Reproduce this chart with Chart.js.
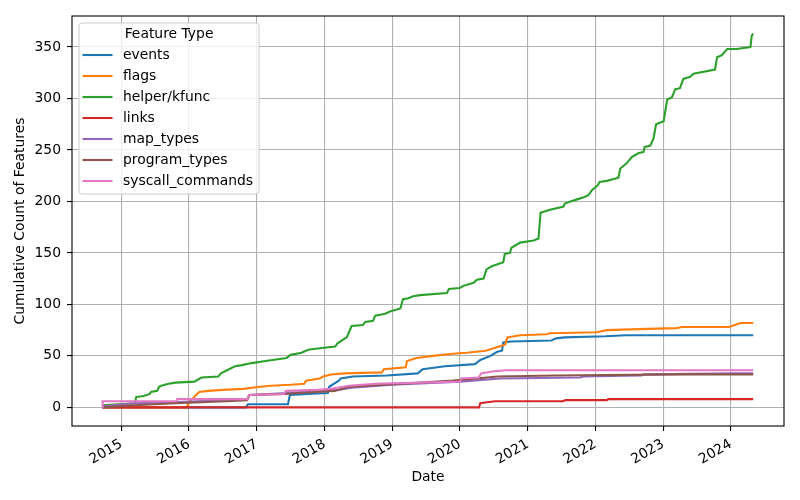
<!DOCTYPE html>
<html>
<head>
<meta charset="utf-8">
<script src="https://cdn.jsdelivr.net/npm/chart.js@4.4.1/dist/chart.umd.min.js"></script>
<style>
  html, body { margin: 0; padding: 0; background: #fff; }
</style>
</head>
<body>
<canvas id="chart" width="800" height="500"></canvas>
<script>
// cumulative feature counts
const eventsDates = ['2014-09-20', '2016-11-03', '2016-11-14', '2017-06-18', '2017-06-28', '2017-10-01', '2018-01-19', '2018-01-26', '2018-03-19', '2018-03-29', '2018-06-03', '2018-12-02', '2019-05-19', '2019-06-14', '2019-10-12', '2020-03-22', '2020-04-20', '2020-06-14', '2020-07-20', '2020-08-15', '2020-08-22', '2020-10-01', '2021-05-08', '2021-06-03', '2021-07-20', '2022-02-25', '2022-06-14', '2024-05-01'];
const eventsCounts = [0, 0, 3, 3, 12, 13, 14, 20, 26, 28, 30, 31, 33, 37, 40, 42, 46, 50, 54, 55, 63, 64, 65, 67, 68, 69, 70, 70];

const flagsDates = ['2014-09-20', '2015-12-20', '2016-01-01', '2016-02-14', '2016-02-25', '2016-04-13', '2016-07-02', '2016-10-19', '2017-01-19', '2017-03-15', '2017-07-02', '2017-09-13', '2017-09-24', '2017-12-05', '2017-12-24', '2018-02-06', '2018-04-20', '2018-11-06', '2018-11-17', '2019-03-15', '2019-03-22', '2019-05-12', '2019-08-08', '2019-11-24', '2020-02-06', '2020-05-19', '2020-07-31', '2020-09-02', '2020-09-13', '2020-11-21', '2021-04-13', '2021-05-01', '2022-01-08', '2022-03-04', '2022-08-22', '2023-03-15', '2023-04-13', '2023-12-24', '2024-02-06', '2024-02-21', '2024-05-01'];
const flagsCounts = [0, 0, 5, 13, 15, 16, 17, 18, 20, 21, 22, 23, 26, 28, 30, 32, 33, 34, 37, 39, 45, 48, 50, 52, 53, 55, 59, 61, 68, 70, 71, 72, 73, 75, 76, 77, 78, 78, 81, 82, 82];

const helperDates = ['2014-09-20', '2015-03-15', '2015-03-22', '2015-05-01', '2015-06-03', '2015-06-10', '2015-07-13', '2015-07-24', '2015-08-04', '2015-09-13', '2015-10-19', '2016-01-30', '2016-03-08', '2016-06-07', '2016-06-21', '2016-08-04', '2016-09-06', '2016-10-12', '2016-12-05', '2017-02-17', '2017-03-26', '2017-06-10', '2017-07-02', '2017-08-30', '2017-10-05', '2017-11-14', '2018-02-28', '2018-03-11', '2018-04-13', '2018-05-01', '2018-05-27', '2018-07-27', '2018-08-08', '2018-09-20', '2018-10-01', '2018-11-24', '2018-12-20', '2019-02-14', '2019-02-28', '2019-03-29', '2019-04-24', '2019-05-30', '2019-10-23', '2019-11-03', '2020-01-01', '2020-01-19', '2020-03-15', '2020-04-02', '2020-05-08', '2020-05-23', '2020-06-21', '2020-08-22', '2020-08-30', '2020-09-27', '2020-10-05', '2020-11-21', '2021-02-02', '2021-02-28', '2021-03-11', '2021-05-01', '2021-07-13', '2021-07-20', '2021-08-19', '2021-09-24', '2021-10-30', '2021-11-24', '2021-12-13', '2022-01-15', '2022-01-23', '2022-03-04', '2022-05-05', '2022-05-15', '2022-06-18', '2022-07-16', '2022-08-22', '2022-09-17', '2022-09-24', '2022-10-23', '2022-11-10', '2022-11-24', '2023-01-04', '2023-01-23', '2023-02-17', '2023-03-08', '2023-04-02', '2023-04-20', '2023-05-27', '2023-06-14', '2023-10-08', '2023-10-19', '2023-11-14', '2023-12-13', '2024-02-02', '2024-04-16', '2024-04-23', '2024-05-01'];
const helperCounts = [2, 4, 10, 11, 13, 15, 16, 20, 21, 23, 24, 25, 29, 30, 33, 37, 40, 41, 43, 45, 46, 48, 51, 53, 56, 57, 59, 62, 66, 68, 79, 80, 83, 84, 89, 91, 93, 96, 105, 106, 108, 109, 111, 115, 116, 118, 121, 124, 125, 134, 137, 141, 149, 150, 155, 160, 162, 164, 189, 192, 195, 198, 200, 202, 204, 206, 211, 216, 219, 220, 223, 232, 237, 243, 247, 248, 253, 254, 261, 275, 278, 299, 301, 309, 310, 319, 321, 324, 328, 340, 342, 348, 348, 350, 361, 363];

const linksDates = ['2014-09-20', '2020-04-13', '2020-04-20', '2020-05-27', '2020-07-09', '2021-07-09', '2021-07-24', '2022-03-04', '2022-03-11', '2024-05-01'];
const linksCounts = [0, 0, 4, 5, 6, 6, 7, 7, 8, 8];

const mapDates = ['2014-09-20', '2015-03-15', '2015-10-19', '2016-07-02', '2016-11-10', '2016-11-21', '2017-06-14', '2017-12-13', '2018-03-15', '2018-05-27', '2019-01-01', '2020-01-01', '2020-08-08', '2021-10-12', '2021-10-27', '2022-09-06', '2022-09-17', '2024-02-06', '2024-05-01'];
const mapCounts = [1, 4, 5, 7, 8, 12, 14, 16, 17, 19, 22, 25, 28, 29, 30, 31, 32, 33, 33];

const progDates = ['2014-09-20', '2015-03-15', '2015-10-19', '2016-07-20', '2016-11-10', '2016-11-21', '2017-06-07', '2017-08-08', '2018-02-25', '2018-05-12', '2018-11-24', '2019-11-24', '2020-05-27', '2020-07-20', '2021-05-27', '2023-04-13', '2024-05-01'];
const progCounts = [0, 2, 4, 6, 7, 12, 13, 14, 16, 20, 22, 26, 29, 30, 31, 32, 32];

const syscallDates = ['2014-09-20', '2014-09-22', '2015-10-23', '2015-10-30', '2016-11-10', '2016-11-21', '2017-05-27', '2017-06-07', '2017-11-24', '2018-02-06', '2018-05-12', '2018-10-01', '2020-01-01', '2020-01-08', '2020-04-13', '2020-04-24', '2020-07-02', '2020-09-09', '2024-05-01'];
const syscallCounts = [0, 6, 6, 8, 8, 12, 13, 16, 17, 18, 21, 23, 25, 28, 29, 33, 35, 36, 36];

const seriesNames = ['events', 'flags', 'helper/kfunc', 'links', 'map_types', 'program_types', 'syscall_commands'];
const seriesColors = ['#1f77b4', '#ff7f0e', '#2ca02c', '#d62728', '#9467bd', '#8c564b', '#e377c2'];
const yearTicks = [2015, 2016, 2017, 2018, 2019, 2020, 2021, 2022, 2023, 2024];
const countTicks = [0, 50, 100, 150, 200, 250, 300, 350];
const legendTitle = 'Feature Type';

const FONT = 'DejaVu Sans';
const FS = 13.9;

function points(dates, counts) {
  return dates.map((d, i) => ({ x: Date.parse(d), y: counts[i] }));
}

const allSeries = [
  points(eventsDates, eventsCounts),
  points(flagsDates, flagsCounts),
  points(helperDates, helperCounts),
  points(linksDates, linksCounts),
  points(mapDates, mapCounts),
  points(progDates, progCounts),
  points(syscallDates, syscallCounts),
];

// frame round the plot + matplotlib style legend in the upper left
const frameAndLegend = {
  id: 'frameAndLegend',
  afterDraw(chart) {
    const { ctx, chartArea: a } = chart;
    ctx.save();
    ctx.strokeStyle = '#000';
    ctx.lineWidth = 1.1;
    ctx.strokeRect(a.left, a.top, a.right - a.left, a.bottom - a.top);

    ctx.font = `${FS}px "${FONT}"`;
    const sets = chart.data.datasets;
    const textW = Math.max(...sets.map((d) => ctx.measureText(d.label).width));
    const x0 = a.left + 7;
    const y0 = a.top + 7;
    const w = 44 + textW + 6;
    const h = 171;
    ctx.beginPath();
    ctx.roundRect(x0, y0, w, h, 3);
    ctx.fillStyle = 'rgba(255,255,255,0.8)';
    ctx.fill();
    ctx.strokeStyle = '#cccccc';
    ctx.lineWidth = 1;
    ctx.stroke();

    ctx.fillStyle = '#000';
    ctx.textBaseline = 'middle';
    ctx.textAlign = 'center';
    ctx.fillText(legendTitle, x0 + w / 2, y0 + 11);
    ctx.textAlign = 'left';
    sets.forEach((d, i) => {
      const y = y0 + 32 + 21 * i;
      ctx.strokeStyle = d.borderColor;
      ctx.lineWidth = 2.1;
      ctx.beginPath();
      ctx.moveTo(x0 + 3.5, y);
      ctx.lineTo(x0 + 33.5, y);
      ctx.stroke();
      ctx.fillText(d.label, x0 + 44, y);
    });
    ctx.restore();
  },
};

new Chart(document.getElementById('chart'), {
  type: 'line',
  data: {
    datasets: seriesNames.map((name, i) => ({
      label: name,
      data: allSeries[i],
      borderColor: seriesColors[i],
      backgroundColor: seriesColors[i],
      borderWidth: 2.1,
      pointRadius: 0,
      tension: 0,
      fill: false,
      order: seriesNames.length - i,
    })),
  },
  options: {
    responsive: false,
    animation: false,
    devicePixelRatio: 1,
    layout: { padding: { left: 0, top: 16, right: 16, bottom: 0 } },
    plugins: { legend: { display: false }, tooltip: { enabled: false } },
    scales: {
      x: {
        type: 'linear',
        min: Date.UTC(2014, 3, 10),
        max: Date.UTC(2024, 9, 14),
        afterBuildTicks: (scale) => { scale.ticks = yearTicks.map((y) => ({ value: Date.UTC(y, 0, 1) })); },
        afterFit: (scale) => { scale.height = 74; },
        grid: { color: '#b0b0b0', lineWidth: 1.1, tickLength: 5, tickColor: '#000', tickWidth: 1.1 },
        border: { display: false },
        ticks: {
          autoSkip: false,
          minRotation: 30,
          maxRotation: 30,
          padding: 5,
          color: '#000',
          font: { family: FONT, size: FS },
          callback: (v) => String(new Date(v).getUTCFullYear()),
        },
        title: { display: true, text: 'Date', color: '#000', font: { family: FONT, size: FS }, padding: { top: 0, bottom: 14 } },
      },
      y: {
        min: -18.1,
        max: 380.1,
        afterBuildTicks: (scale) => { scale.ticks = countTicks.map((v) => ({ value: v })); },
        afterFit: (scale) => { scale.width = 72; },
        grid: { color: '#b0b0b0', lineWidth: 1.1, tickLength: 5, tickColor: '#000', tickWidth: 1.1 },
        border: { display: false },
        ticks: { padding: 6, color: '#000', font: { family: FONT, size: FS } },
        title: { display: true, text: 'Cumulative Count of Features', color: '#000', font: { family: FONT, size: FS }, padding: { top: 12, bottom: 0 } },
      },
    },
  },
  plugins: [frameAndLegend],
});
</script>
</body>
</html>
